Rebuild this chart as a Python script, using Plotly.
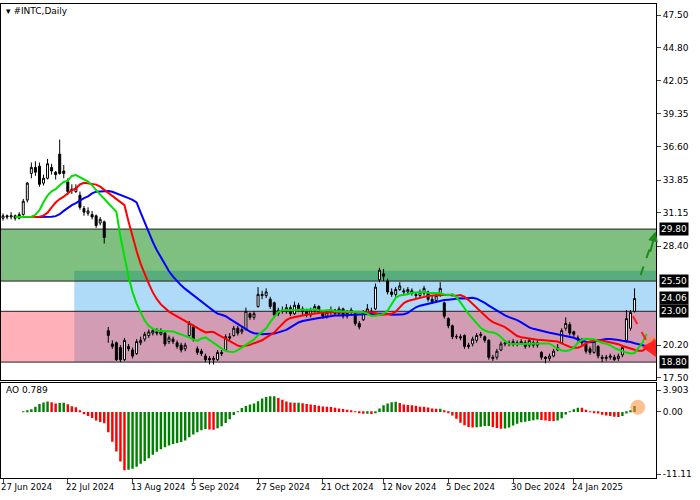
import pandas as pd
import plotly.graph_objects as go

# daily INTC candles, 27 Jun 2024 .. 31 Jan 2025
opens = [30.7, 30.9, 30.8, 30.9, 30.7, 31.0, 32.2, 34.4, 34.9, 35.0,
         33.6, 34.0, 34.9, 34.5, 36.0, 34.6, 33.7, 33.1, 32.9, 32.6,
         31.5, 31.1, 31.0, 30.9, 30.3, 30.4, 21.4, 20.3, 20.4, 20.0,
         19.0, 20.1, 19.8, 19.5, 20.4, 20.7, 21.0, 21.2, 21.3, 21.1,
         21.2, 20.5, 20.7, 20.4, 20.2, 19.9, 21.0, 21.7, 19.9, 19.7,
         19.3, 19.1, 19.0, 19.0, 19.6, 19.8, 20.9, 21.0, 21.6, 21.3,
         21.5, 22.8, 22.5, 23.4, 24.4, 24.3, 24.0, 23.7, 22.8, 23.1,
         23.0, 23.3, 22.8, 23.5, 23.2, 23.0, 22.7, 23.1, 23.4, 23.0,
         22.6, 22.9, 23.1, 22.8, 23.2, 22.6, 22.9, 22.8, 22.0, 22.3,
         22.9, 23.0, 23.2, 25.6, 26.1, 25.5, 24.6, 24.4, 24.8, 24.7,
         24.6, 24.7, 24.4, 24.3, 24.5, 24.6, 24.0, 23.9, 24.3, 23.7,
         22.4, 21.8, 20.9, 20.9, 21.0, 20.2, 20.3, 20.6, 21.0, 20.9,
         20.6, 19.2, 19.2, 19.8, 20.3, 20.4, 20.3, 20.4, 20.3, 20.4,
         20.2, 20.4, 20.2, 19.6, 19.2, 19.1, 19.3, 19.8, 20.4, 21.6,
         21.9, 21.3, 20.8, 20.6, 20.3, 19.9, 19.6, 20.1, 19.2, 19.1,
         19.2, 19.2, 19.1, 19.4, 20.6, 21.6, 23.0]
highs = [31.1, 31.0, 31.2, 31.0, 31.2, 32.3, 33.7, 35.3, 35.4, 35.3,
         34.3, 35.6, 35.2, 34.6, 37.2, 35.1, 34.0, 33.5, 33.5, 32.9,
         31.7, 31.6, 31.3, 31.0, 30.8, 30.5, 21.7, 20.6, 20.5, 20.2,
         20.8, 20.3, 20.0, 20.7, 20.9, 21.3, 21.5, 21.6, 21.6, 21.6,
         21.3, 21.0, 20.9, 20.6, 20.4, 20.4, 22.2, 21.9, 20.1, 19.9,
         19.5, 19.3, 19.3, 19.8, 19.8, 21.1, 21.2, 21.8, 21.8, 21.7,
         23.3, 22.9, 23.0, 25.0, 24.7, 24.9, 24.2, 23.8, 23.3, 23.4,
         23.6, 23.5, 23.8, 23.7, 23.4, 23.2, 23.3, 23.6, 23.5, 23.1,
         23.1, 23.4, 23.2, 23.4, 23.3, 23.1, 23.3, 22.9, 22.2, 23.1,
         23.6, 23.3, 25.3, 26.6, 26.5, 25.7, 24.9, 25.0, 25.4, 24.9,
         25.0, 24.9, 24.6, 24.8, 25.1, 24.7, 24.3, 24.5, 25.4, 23.8,
         22.5, 21.9, 21.1, 21.1, 21.1, 20.4, 20.9, 21.2, 21.3, 21.0,
         20.7, 19.4, 19.9, 20.5, 20.6, 20.6, 20.7, 20.6, 20.7, 20.6,
         20.8, 20.6, 20.6, 19.7, 19.3, 19.5, 19.9, 20.3, 21.6, 22.5,
         22.1, 21.4, 21.0, 20.8, 20.4, 20.1, 20.7, 20.2, 19.4, 19.4,
         19.5, 19.4, 19.5, 20.2, 23.1, 23.1, 24.9]
lows = [30.5, 30.6, 30.6, 30.5, 30.6, 30.9, 32.0, 34.0, 34.2, 33.3,
        33.4, 33.9, 34.3, 33.9, 34.3, 34.0, 32.6, 32.7, 32.8, 31.4,
        30.9, 30.9, 30.6, 29.9, 30.1, 28.6, 20.4, 19.9, 18.9, 18.8,
        18.9, 19.7, 19.1, 19.4, 20.2, 20.5, 20.8, 21.0, 21.0, 21.0,
        20.1, 20.3, 20.3, 19.9, 19.6, 19.7, 20.9, 20.5, 19.4, 19.3,
        18.8, 18.6, 18.6, 18.9, 19.3, 19.7, 20.6, 20.9, 21.0, 21.1,
        21.4, 22.3, 22.3, 23.3, 24.0, 24.1, 23.2, 22.5, 22.6, 22.8,
        22.8, 22.6, 22.7, 23.0, 22.7, 22.5, 22.5, 22.9, 22.8, 22.4,
        22.4, 22.7, 22.6, 22.6, 22.4, 22.4, 22.7, 21.8, 21.5, 22.2,
        22.7, 22.7, 23.1, 25.4, 25.5, 24.4, 24.2, 24.2, 24.7, 24.4,
        24.4, 24.3, 24.1, 24.1, 24.3, 23.8, 23.6, 23.7, 24.2, 22.4,
        21.6, 20.7, 20.7, 20.6, 19.9, 19.9, 20.1, 20.4, 20.8, 20.4,
        19.0, 18.9, 19.0, 19.7, 20.1, 20.1, 20.1, 20.1, 20.2, 19.9,
        20.0, 20.0, 20.0, 19.0, 18.7, 18.9, 19.2, 19.7, 20.3, 21.4,
        21.0, 20.9, 20.5, 20.2, 19.5, 19.4, 19.5, 19.1, 18.8, 18.9,
        19.0, 18.9, 18.9, 19.2, 20.4, 21.4, 22.9]
closes = [30.9, 30.8, 30.9, 30.7, 31.0, 32.1, 33.6, 34.9, 34.5, 33.5,
          34.0, 35.2, 34.6, 34.3, 34.4, 34.4, 32.9, 33.0, 33.2, 31.6,
          31.2, 31.3, 30.8, 30.1, 30.6, 29.1, 21.0, 20.1, 19.0, 19.0,
          20.6, 19.9, 19.3, 20.5, 20.6, 21.1, 21.3, 21.4, 21.2, 21.3,
          20.3, 20.8, 20.5, 20.1, 19.8, 20.2, 22.0, 20.7, 19.6, 19.5,
          19.0, 19.0, 19.1, 19.6, 19.5, 20.9, 20.8, 21.6, 21.2, 21.5,
          23.0, 22.5, 22.8, 24.4, 24.3, 24.6, 23.4, 22.7, 23.1, 23.0,
          23.3, 22.8, 23.5, 23.2, 23.0, 22.7, 23.1, 23.4, 23.0, 22.6,
          22.9, 23.1, 22.8, 23.2, 22.6, 22.9, 23.1, 22.0, 21.7, 22.9,
          23.2, 23.0, 25.0, 26.4, 25.9, 24.6, 24.4, 24.8, 25.1, 24.6,
          24.8, 24.5, 24.3, 24.6, 24.9, 24.0, 23.8, 24.3, 24.9, 22.6,
          21.8, 20.9, 20.9, 20.8, 20.1, 20.1, 20.7, 21.0, 21.1, 20.6,
          19.2, 19.1, 19.7, 20.3, 20.4, 20.3, 20.5, 20.3, 20.5, 20.1,
          20.6, 20.2, 20.4, 19.2, 19.1, 19.3, 19.7, 20.0, 21.4, 22.0,
          21.2, 21.1, 20.7, 20.4, 19.7, 19.6, 20.5, 19.3, 19.1, 19.2,
          19.3, 19.0, 19.3, 20.0, 22.4, 22.9, 24.06]

date_ticks = [0, 16, 32, 47, 63, 79, 94, 110, 126, 141]
date_labels = ['27 Jun 2024', '22 Jul 2024', '13 Aug 2024', '5 Sep 2024', '27 Sep 2024',
               '21 Oct 2024', '12 Nov 2024', '5 Dec 2024', '30 Dec 2024', '24 Jan 2025']
price_ticks = [47.50, 44.80, 42.05, 39.35, 36.60, 33.85, 31.15, 28.40, 20.20, 17.50]
boxed_levels = [29.80, 25.50, 24.06, 23.00, 18.80]
zone_levels = [29.80, 25.50, 23.00, 18.80]

df = pd.DataFrame({'o': opens, 'h': highs, 'l': lows, 'c': closes})
df['x'] = range(len(df))
median = (df['h'] + df['l']) / 2

# ── Alligator: smoothed MAs of the median price, shifted forward
def smma(s, n):
    return s.ewm(alpha=1 / n, adjust=False).mean()

jaw = smma(median, 13)
teeth = smma(median, 8)
lips = smma(median, 5)

# ── Awesome oscillator
ao = median.rolling(5, min_periods=1).mean() - median.rolling(34, min_periods=1).mean()
ao_colors = ['#008000' if i > 0 and ao[i] > ao[i - 1] else '#ff0000' for i in range(len(ao))]
ao_colors[0] = '#ff0000'

XMAX = 161.3
FONT = dict(family='DejaVu Sans', size=9, color='black')
fig = go.Figure()

# zones
fig.add_shape(type='rect', x0=17.6, x1=XMAX, y0=18.8, y1=26.35, xref='x', yref='y',
              fillcolor='#afdaf8', line_width=0, layer='below')
fig.add_shape(type='rect', x0=-0.5, x1=XMAX, y0=25.5, y1=29.8, xref='x', yref='y',
              fillcolor='rgba(0,128,0,0.5)', line_width=0, layer='below')
fig.add_shape(type='rect', x0=-0.5, x1=XMAX, y0=18.8, y1=23.0, xref='x', yref='y',
              fillcolor='rgba(255,80,100,0.45)', line_width=0, layer='below')
for lv in zone_levels:
    fig.add_shape(type='line', x0=-0.5, x1=XMAX, y0=lv, y1=lv, xref='x', yref='y',
                  line=dict(color='#202020', width=1), layer='below')

fig.add_trace(go.Candlestick(
    x=df['x'], open=df['o'], high=df['h'], low=df['l'], close=df['c'],
    increasing=dict(line=dict(color='black', width=1), fillcolor='white'),
    decreasing=dict(line=dict(color='black', width=1), fillcolor='black'),
    whiskerwidth=0, showlegend=False, hoverinfo='skip'))

for series, shift, color in [(jaw, 8, '#0000ff'), (teeth, 5, '#ff0000'), (lips, 3, '#00e000')]:
    fig.add_trace(go.Scatter(x=df['x'] + shift, y=series, mode='lines',
                             line=dict(color=color, width=2), showlegend=False,
                             hoverinfo='skip'))

fig.add_trace(go.Bar(x=df['x'], y=ao, marker=dict(color=ao_colors, line_width=0),
                     width=0.6, xaxis='x2', yaxis='y2', showlegend=False, hoverinfo='skip'))

# forecast arrows
fig.add_trace(go.Scatter(x=[157.5, 161], y=[26.0, 29.4], mode='lines',
                         line=dict(color='#1a8a1a', width=2, dash='dash'), showlegend=False))
fig.add_annotation(x=161.2, y=29.6, ax=159.8, ay=27.8, xref='x', yref='y', axref='x', ayref='y',
                   showarrow=True, arrowhead=2, arrowcolor='#1a8a1a', arrowwidth=2, text='')
fig.add_trace(go.Scatter(x=[155.6, 160.2], y=[22.6, 19.8], mode='lines',
                         line=dict(color='#ff2020', width=2, dash='dash'), showlegend=False))
fig.add_annotation(x=161.4, y=19.2, ax=159.6, ay=20.3, xref='x', yref='y', axref='x', ayref='y',
                   showarrow=True, arrowhead=2, arrowsize=1.6, arrowcolor='#ff2020', arrowwidth=2, text='')
fig.add_trace(go.Scatter(x=[160.5], y=[20.3], mode='markers', showlegend=False,
                         marker=dict(size=15, color='rgba(255,140,60,0.55)')))
fig.add_trace(go.Scatter(x=[156.8], y=[ao.iloc[-1] / 2 + 0.3], mode='markers', showlegend=False,
                         xaxis='x2', yaxis='y2',
                         marker=dict(size=15, color='rgba(255,140,60,0.55)')))

# boxed price labels
for lv in boxed_levels:
    fig.add_annotation(x=1.004, y=lv, xref='paper', yref='y', text=f'{lv:.2f}',
                       showarrow=False, xanchor='left', bgcolor='black',
                       font=dict(family='DejaVu Sans', color='white', size=9), borderpad=1)

for t, lab in zip(date_ticks, date_labels):
    fig.add_annotation(x=t - 0.5, y=-0.005, xref='x2', yref='paper', text=lab, showarrow=False,
                       xanchor='left', yanchor='top', xshift=-2,
                       font=dict(family='DejaVu Sans', size=8.5, color='black'))

fig.add_annotation(x=0.005, y=1.0, xref='paper', yref='paper', text='▾ #INTC,Daily',
                   showarrow=False, xanchor='left', yanchor='top', font=FONT)
fig.add_annotation(x=0.005, y=0.2, xref='paper', yref='paper', text='AO 0.789',
                   showarrow=False, xanchor='left', yanchor='top', font=FONT)

axis_common = dict(showgrid=False, zeroline=False, showline=True, linecolor='black',
                   mirror=True, linewidth=1, automargin=False)
fig.update_layout(
    width=700, height=500, plot_bgcolor='white', paper_bgcolor='white',
    margin=dict(l=1, r=44, t=4, b=22),
    font=FONT,
    xaxis=dict(range=[-0.5, XMAX], domain=[0, 1], anchor='y', showticklabels=False,
               rangeslider=dict(visible=False), **axis_common),
    yaxis=dict(range=[17.33, 48.41], domain=[0.207, 1], side='right', tickvals=price_ticks,
               tickformat='.2f', ticks='outside', ticklen=4, **axis_common),
    xaxis2=dict(range=[-0.5, XMAX], domain=[0, 1], anchor='y2', showticklabels=False,
                ticks='outside', tickvals=date_ticks, ticklen=4, **axis_common),
    yaxis2=dict(range=[-11.82, 5.15], domain=[0, 0.2], side='right', anchor='x2',
                tickvals=[3.903, 0, -11.11], ticktext=['3.903', '0.00', '-11.11'],
                ticks='outside', ticklen=4, **axis_common),
)

fig.write_html('out.html', config={'displayModeBar': False},
               post_script="document.body.style.margin='0';")
